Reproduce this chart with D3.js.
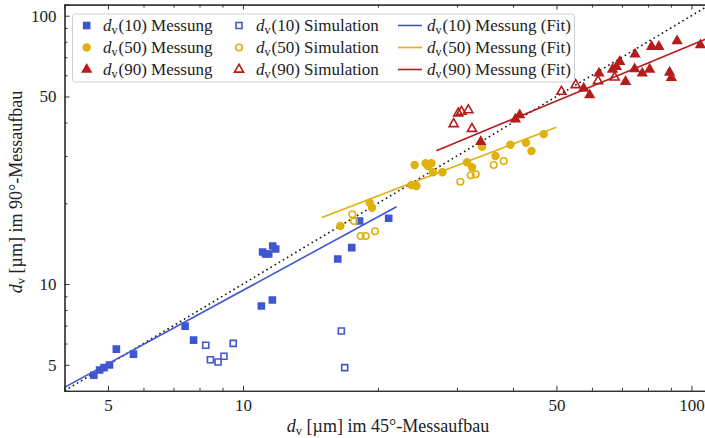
<!DOCTYPE html>
<html>
<head>
<meta charset="utf-8">
<script src="https://cdn.jsdelivr.net/npm/d3@7"></script>
<style>
  body { margin: 0; background: #fff; }
  svg { font-family: "Liberation Serif", "DejaVu Serif", serif; }
  .axis path, .axis line { stroke: #333; }
  .axis text { font-size: 17px; fill: #222; font-family: "Liberation Serif", serif; }
</style>
</head>
<body>
<svg id="chart" width="705" height="438"></svg>
<script>
// d_v im 45°-Aufbau (x) gegen 90°-Aufbau (y), Werte in µm

// d_v(10)
var d10MessX = [4.65, 4.79, 4.90, 5.04, 5.22, 5.70, 7.43, 7.76, 10.99, 11.63, 11.06, 11.23, 11.41, 11.65, 11.83, 16.27, 17.48, 18.20, 21.13]
var d10MessY = [4.57, 4.78, 4.88, 4.99, 5.72, 5.48, 6.97, 6.18, 8.28, 8.72, 13.16, 12.94, 12.94, 13.86, 13.50, 12.40, 13.66, 17.17, 17.58]
var d10SimX = [8.26, 8.46, 8.80, 9.07, 9.51, 16.57, 16.86]
var d10SimY = [5.91, 5.22, 5.12, 5.38, 6.01, 6.68, 4.88]

// d_v(50)
var d50MessX = [16.49, 19.17, 19.40, 23.74, 24.36, 24.15, 25.55, 25.85, 26.31, 26.52, 27.84, 31.6, 32.42, 34.12, 36.55, 39.48, 42.77, 43.98, 46.84]
var d50MessY = [16.45, 20.09, 19.25, 23.38, 23.19, 27.77, 28.18, 27.53, 28.18, 26.08, 26.08, 28.42, 27.23, 32.49, 30.0, 33.05, 33.62, 31.3, 36.2]
var d50SimX = [17.54, 17.68, 18.30, 18.78, 19.70, 30.53, 32.2, 33.04, 36.24, 38.14]
var d50SimY = [18.19, 17.17, 15.10, 15.10, 15.72, 24.06, 25.42, 25.64, 27.77, 28.73]

// d_v(90)
var d90MessX = [33.9, 40.5, 41.4, 57.5, 59.3, 62.2, 66.7, 68.05, 69.2, 71.3, 74.7, 74.85, 77.7, 80.7, 81.5, 84.6, 89.4, 90.2, 92.9, 104.7]
var d90MessY = [33.9, 41.1, 42.65, 53.6, 50.6, 61.0, 63.1, 64.5, 67.4, 56.8, 63.3, 71.8, 61.0, 63.1, 76.7, 76.7, 61.5, 58.7, 80.5, 77.8]
var d90SimX = [29.5, 30.2, 30.7, 31.8, 32.4, 51.3, 55.2, 61.9, 67.4]
var d90SimY = [39.5, 43.3, 43.9, 44.5, 37.9, 52.1, 55.2, 57.1, 58.9]

// Fit-Geraden (Anfangs- und Endpunkt)
var fit10X = [4, 22], fit10Y = [4.12, 19.4]
var fit50X = [15, 50], fit50Y = [17.7, 38.4]
var fit90X = [27, 110], fit90Y = [31.4, 83]

var majorTicks = [5, 10, 50, 100]
var minorTicks = [6, 7, 8, 9, 20, 30, 40, 60, 70, 80, 90]

var blue = '#4055d2', gold = '#e0b00c', red = '#b51c1c'

var svg = d3.select('#chart')
var x = d3.scaleLog().domain([4, 110]).range([64.5, 710])
var y = d3.scaleLog().domain([4, 110]).range([390.8, 4.6])

var plot = svg.append('g')
svg.append('defs').append('clipPath').attr('id', 'clip')
	.append('rect').attr('x', 64.5).attr('y', 4.6).attr('width', 646).attr('height', 386.2)
plot.attr('clip-path', 'url(#clip)')

function pts(xs, ys) { return xs.map(function(v, i) { return [v, ys[i]] }) }

// Winkelhalbierende
plot.append('line')
	.attr('x1', x(4)).attr('y1', y(4)).attr('x2', x(110)).attr('y2', y(110))
	.attr('stroke', '#111').attr('stroke-width', 1.6).attr('stroke-dasharray', '1.6,3.2')

// fits
var line = d3.line().x(function(d) { return x(d[0]) }).y(function(d) { return y(d[1]) })
;[[fit10X, fit10Y, blue], [fit50X, fit50Y, gold], [fit90X, fit90Y, red]].forEach(function(f) {
	plot.append('path').datum(pts(f[0], f[1])).attr('d', line)
		.attr('fill', 'none').attr('stroke', f[2]).attr('stroke-width', 1.6)
})

var sq = d3.symbol().type(d3.symbolSquare).size(58)
var ci = d3.symbol().type(d3.symbolCircle).size(56)
var tri = d3.symbol().type(d3.symbolTriangle).size(56)
var sqO = d3.symbol().type(d3.symbolSquare).size(36)
var ciO = d3.symbol().type(d3.symbolCircle).size(34)
var triO = d3.symbol().type(d3.symbolTriangle).size(36)

function scatter(data, sym, color, open) {
	plot.append('g').selectAll('path').data(data).enter().append('path')
		.attr('d', sym)
		.attr('transform', function(d) { return 'translate(' + x(d[0]) + ',' + y(d[1]) + ')' })
		.attr('fill', open ? 'none' : color)
		.attr('stroke', color).attr('stroke-width', open ? 1.6 : 0)
}
scatter(pts(d10MessX, d10MessY), sq, blue, false)
scatter(pts(d10SimX, d10SimY), sqO, blue, true)
scatter(pts(d50MessX, d50MessY), ci, gold, false)
scatter(pts(d50SimX, d50SimY), ciO, gold, true)
scatter(pts(d90MessX, d90MessY), tri, red, false)
scatter(pts(d90SimX, d90SimY), triO, red, true)

// axes, ticks inward
function axes(axisFn, scale, tr, size, labels) {
	var a = axisFn(scale).tickValues(labels ? majorTicks : minorTicks).tickSize(size).tickPadding(8)
	a.tickFormat(labels ? d3.format('d') : '')
	return svg.append('g').attr('class', 'axis').attr('transform', tr).call(a)
}
axes(d3.axisBottom, x, 'translate(0,' + y(4) + ')', -5, true)
axes(d3.axisBottom, x, 'translate(0,' + y(4) + ')', -3, false)
svg.append('g').attr('class', 'axis').attr('transform', 'translate(0,' + y(110) + ')')
	.call(d3.axisTop(x).tickValues(majorTicks).tickSize(-5).tickFormat(''))
svg.append('g').attr('class', 'axis').attr('transform', 'translate(0,' + y(110) + ')')
	.call(d3.axisTop(x).tickValues(minorTicks).tickSize(-3).tickFormat(''))
axes(d3.axisLeft, y, 'translate(' + x(4) + ',0)', -5, true)
axes(d3.axisLeft, y, 'translate(' + x(4) + ',0)', -3, false)
svg.selectAll('.axis .domain').attr('stroke-width', 1.2)

// axis labels
var xl = svg.append('text').attr('x', 388).attr('y', 432).attr('text-anchor', 'middle')
	.attr('font-size', 18).attr('fill', '#222')
xl.append('tspan').attr('font-style', 'italic').text('d')
xl.append('tspan').attr('font-size', 12.5).attr('dy', 3).text('v')
xl.append('tspan').attr('dy', -3).text(' [µm] im 45°-Messaufbau')

var yl = svg.append('text').attr('transform', 'translate(22,192) rotate(-90)').attr('text-anchor', 'middle')
	.attr('font-size', 18).attr('fill', '#222')
yl.append('tspan').attr('font-style', 'italic').text('d')
yl.append('tspan').attr('font-size', 12.5).attr('dy', 3).text('v')
yl.append('tspan').attr('dy', -3).text(' [µm] im 90°-Messaufbau')

// legend
var legend = svg.append('g')
legend.append('rect').attr('x', 72.5).attr('y', 14).attr('width', 502).attr('height', 68).attr('rx', 3)
	.attr('fill', 'white').attr('fill-opacity', 0.85).attr('stroke', '#d0d0d0').attr('stroke-width', 1)

var legendRows = [25.5, 47.5, 69.5]
var legendNums = ['10', '50', '90']
var legendColors = [blue, gold, red]
var legendSyms = [[sq, sqO], [ci, ciO], [tri, triO]]
legendRows.forEach(function(ry, i) {
	var c = legendColors[i]
	legend.append('path').attr('d', legendSyms[i][0]).attr('transform', 'translate(86.7,' + ry + ')').attr('fill', c)
	legend.append('path').attr('d', legendSyms[i][1]).attr('transform', 'translate(239,' + ry + ')')
		.attr('fill', 'none').attr('stroke', c).attr('stroke-width', 1.6)
	legend.append('line').attr('x1', 398).attr('x2', 422).attr('y1', ry).attr('y2', ry).attr('stroke', c).attr('stroke-width', 1.6)
	;[[103, ' Messung'], [256, ' Simulation'], [427, ' Messung (Fit)']].forEach(function(col) {
		var t = legend.append('text').attr('x', col[0]).attr('y', ry + 5.5).attr('font-size', 17).attr('fill', '#222')
		t.append('tspan').attr('font-style', 'italic').text('d')
		t.append('tspan').attr('font-size', 12).attr('dy', 3).text('v')
		t.append('tspan').attr('dx', 1).attr('dy', -3).text('(' + legendNums[i] + ')' + col[1])
	})
})
</script>
</body>
</html>
